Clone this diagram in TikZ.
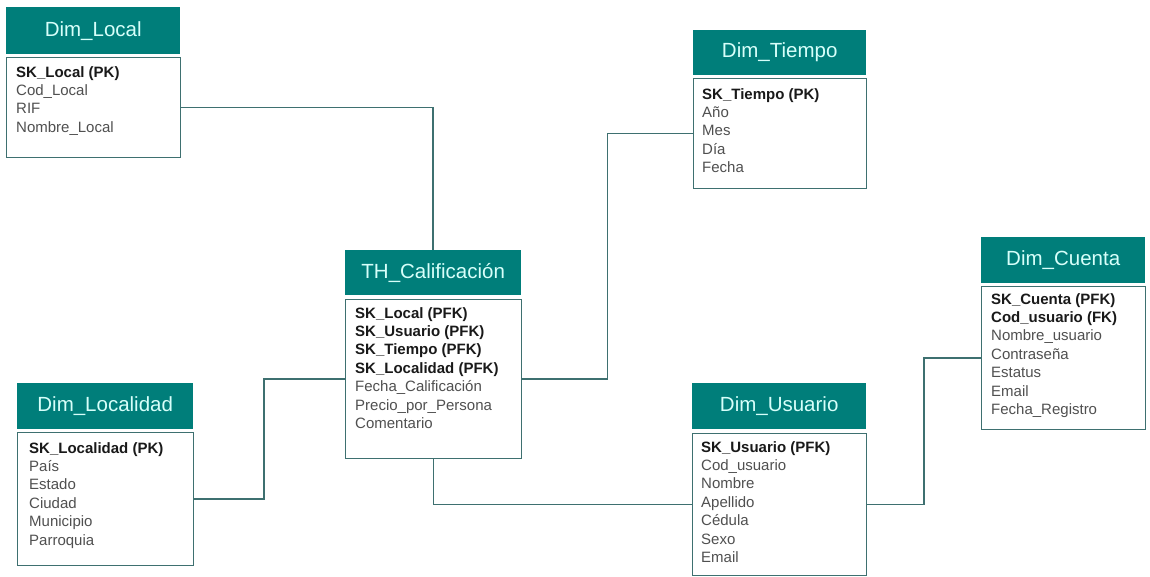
\documentclass[tikz,border=0pt]{standalone}
\usepackage{fontspec}
\setmainfont{Liberation Sans}
\usetikzlibrary{calc}

\definecolor{hdfill}{RGB}{0,126,122}
\definecolor{hdtext}{RGB}{215,255,250}
\definecolor{edge}{RGB}{62,112,112}
\definecolor{keyc}{RGB}{25,25,25}
\definecolor{attr}{RGB}{80,80,80}

\newcommand\keyfield[1]{{\color{keyc}\bfseries #1}}

\begin{document}
\begin{tikzpicture}[x=1pt,y=-1pt,
  hdr/.style={fill=hdfill, draw=none, anchor=north west, inner sep=0pt,
              text=hdtext, font=\fontsize{20.5}{23}\selectfont},
  bodybox/.style={draw=edge, line width=1.2pt, fill=white, anchor=north west, inner sep=0pt},
  fields/.style={anchor=north west, align=left, inner sep=0pt, text=attr,
                 font=\fontsize{15}{18.4}\selectfont},
  link/.style={draw=edge, line width=1.5pt}]

\useasboundingbox (0,0) rectangle (1150,577);

% Dim_Local
\node[hdr, minimum width=174pt, minimum height=47pt] (hLocal) at (6,7) {Dim\_Local};
\node[bodybox, minimum width=174pt, minimum height=100pt] (bLocal) at (6,57) {};
\node[fields] (fLocal) at (16,66) {\keyfield{SK\_Local (PK)}\\Cod\_Local\\RIF\\Nombre\_Local};

% Dim_Tiempo
\node[hdr, minimum width=173pt, minimum height=45pt] (hTiempo) at (693,30) {Dim\_Tiempo};
\node[bodybox, minimum width=173pt, minimum height=110pt] (bTiempo) at (693,78) {};
\node[fields] (fTiempo) at (702,88) {\keyfield{SK\_Tiempo (PK)}\\Año\\Mes\\Día\\Fecha};

% TH_Calificación
\node[hdr, minimum width=176pt, minimum height=45pt] (hTH) at (345,250) {TH\_Calificación};
\node[bodybox, minimum width=176pt, minimum height=159pt] (bTH) at (345,299) {};
\node[fields] (fTH) at (355,307) {\keyfield{SK\_Local (PFK)}\\\keyfield{SK\_Usuario (PFK)}\\\keyfield{SK\_Tiempo (PFK)}\\\keyfield{SK\_Localidad (PFK)}\\Fecha\_Calificación\\Precio\_por\_Persona\\Comentario};

% Dim_Localidad
\node[hdr, minimum width=176pt, minimum height=46pt] (hLocalidad) at (17,383) {Dim\_Localidad};
\node[bodybox, minimum width=176pt, minimum height=133pt] (bLocalidad) at (17,432) {};
\node[fields] (fLocalidad) at (29,442) {\keyfield{SK\_Localidad (PK)}\\País\\Estado\\Ciudad\\Municipio\\Parroquia};

% Dim_Usuario
\node[hdr, minimum width=174pt, minimum height=46pt] (hUsuario) at (692,383) {Dim\_Usuario};
\node[bodybox, minimum width=174pt, minimum height=142pt] (bUsuario) at (692,433) {};
\node[fields] (fUsuario) at (701,441) {\keyfield{SK\_Usuario (PFK)}\\Cod\_usuario\\Nombre\\Apellido\\Cédula\\Sexo\\Email};

% Dim_Cuenta
\node[hdr, minimum width=164pt, minimum height=46pt] (hCuenta) at (981,237) {Dim\_Cuenta};
\node[bodybox, minimum width=164pt, minimum height=143pt] (bCuenta) at (981,286) {};
\node[fields] (fCuenta) at (991,293) {\keyfield{SK\_Cuenta (PFK)}\\\keyfield{Cod\_usuario (FK)}\\Nombre\_usuario\\Contraseña\\Estatus\\Email\\Fecha\_Registro};

% relationships
\draw[link] (bLocal.east) -| (hTH.north);
\draw[link] (bTH.east) -| ($(bTH.east)!0.5!(bTiempo.west)$) |- (bTiempo.west);
\draw[link] (bLocalidad.east) -- ++(70,0) |- (bTH.west);
\draw[link] (bTH.south) |- (bUsuario.west);
\draw[link] (bUsuario.east) -| ($(bUsuario.east)!0.5!(bCuenta.west)$) |- (bCuenta.west);

\end{tikzpicture}
\end{document}
